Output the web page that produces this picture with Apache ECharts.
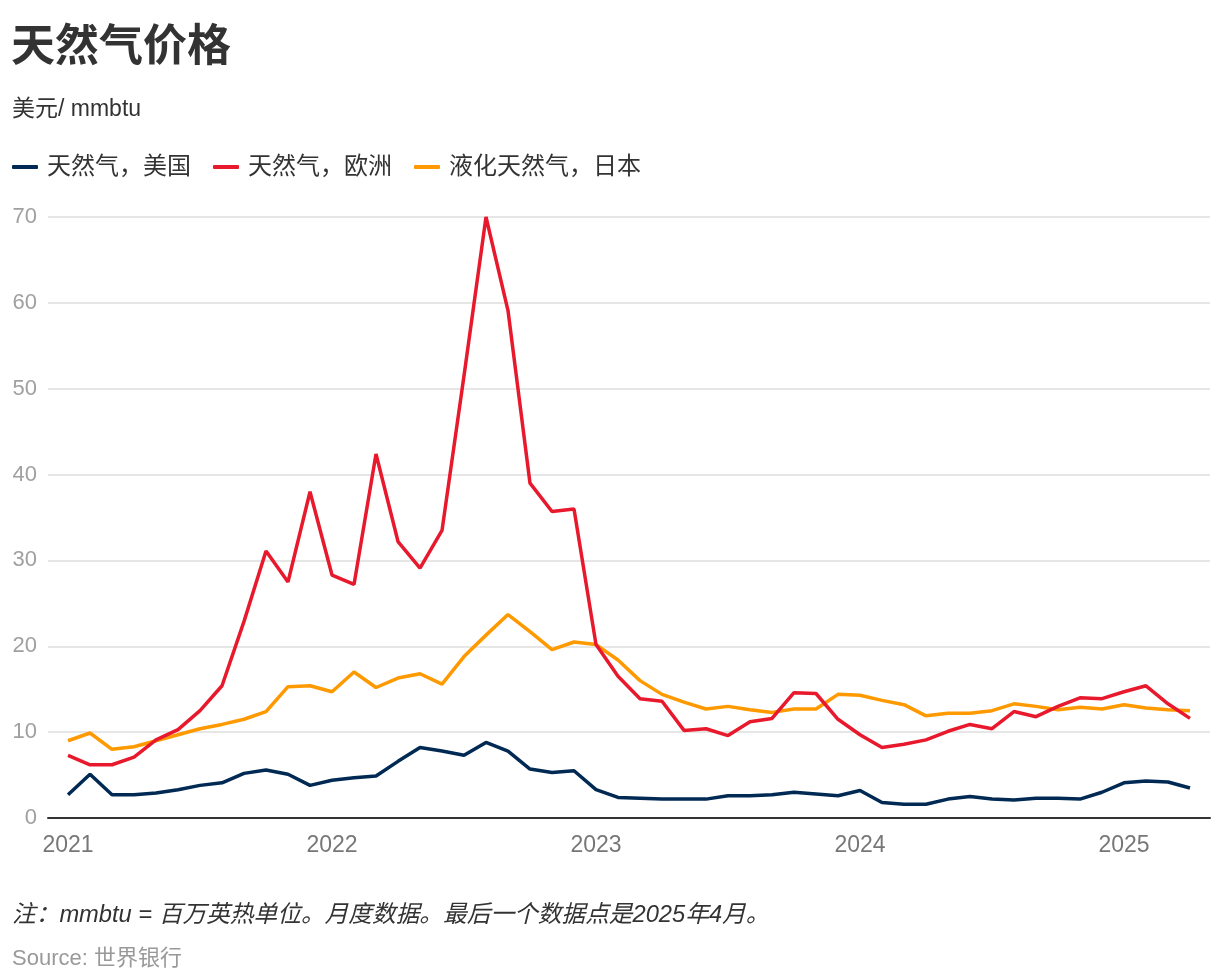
<!DOCTYPE html>
<html>
<head>
<meta charset="utf-8">
<title>天然气价格</title>
<script src="https://cdn.jsdelivr.net/npm/echarts@6.0.0/dist/echarts.min.js"></script>
<style>
  html, body { margin: 0; padding: 0; background: #fff; }
  #chart { width: 1220px; height: 980px; }
</style>
</head>
<body>
<div id="chart"></div>
<script>
// monthly, Jan 2021 .. Apr 2025 (US$/mmbtu)
const yearLabels = ['2021', '2022', '2023', '2024', '2025']

const usGas = [
  2.7, 5.1, 2.7, 2.7, 2.9, 3.3, 3.8, 4.1, 5.2, 5.6, 5.1, 3.8,
  4.4, 4.7, 4.9, 6.6, 8.2, 7.8, 7.3, 8.8, 7.8, 5.7, 5.3, 5.5,
  3.3, 2.4, 2.3, 2.2, 2.2, 2.2, 2.6, 2.6, 2.7, 3.0, 2.8, 2.6,
  3.2, 1.8, 1.6, 1.6, 2.2, 2.5, 2.2, 2.1, 2.3, 2.3, 2.2, 3.0,
  4.1, 4.3, 4.2, 3.5
]
const euGas = [
  7.3, 6.2, 6.2, 7.1, 9.1, 10.3, 12.5, 15.4, 22.9, 31.1, 27.5, 38.0,
  28.3, 27.2, 42.4, 32.2, 29.1, 33.5, 51.5, 70.0, 59.1, 39.0, 35.7, 36.0,
  20.2, 16.5, 13.9, 13.6, 10.2, 10.4, 9.6, 11.2, 11.6, 14.6, 14.5, 11.5,
  9.7, 8.2, 8.6, 9.1, 10.1, 10.9, 10.4, 12.4, 11.8, 13.0, 14.0, 13.9,
  14.7, 15.4, 13.3, 11.6
]
const jpLng = [
  9.0, 9.9, 8.0, 8.3, 9.0, 9.7, 10.4, 10.9, 11.5, 12.4, 15.3, 15.4,
  14.7, 17.0, 15.2, 16.3, 16.8, 15.6, 18.8, 21.3, 23.7, 21.7, 19.6, 20.5,
  20.2, 18.4, 16.0, 14.4, 13.5, 12.7, 13.0, 12.6, 12.3, 12.7, 12.7, 14.4,
  14.3, 13.7, 13.2, 11.9, 12.2, 12.2, 12.5, 13.3, 13.0, 12.6, 12.9, 12.7,
  13.2, 12.8, 12.6, 12.5
]

const seriesNames = ['天然气，美国', '天然气，欧洲', '液化天然气，日本']
const seriesColors = ['#002a54', '#e8192c', '#ff9900']

const font = "'Liberation Sans', 'Noto Sans CJK SC', sans-serif"
const toPoints = arr => arr.map((v, i) => [i, v])

const chart = echarts.init(document.getElementById('chart'))

chart.setOption({
  animation: false,
  textStyle: { fontFamily: font },
  color: seriesColors,
  title: [
    {
      text: '天然气价格', left: 11, top: 27, padding: 0,
      textStyle: { fontSize: 44, fontWeight: 'bold', color: '#333', fontFamily: font }
    },
    {
      text: '美元/ mmbtu', left: 12, top: 98, padding: 0,
      textStyle: { fontSize: 23, fontWeight: 'normal', color: '#333', fontFamily: font }
    },
    {
      text: '注：mmbtu = 百万英热单位。月度数据。最后一个数据点是2025年4月。', left: 12, top: 904, padding: 0,
      textStyle: { fontSize: 23.7, fontWeight: 'normal', fontStyle: 'italic', color: '#333', fontFamily: font }
    },
    {
      text: 'Source: 世界银行', left: 12, top: 948, padding: 0,
      textStyle: { fontSize: 22, fontWeight: 'normal', color: '#999', fontFamily: font }
    }
  ],
  legend: {
    left: 12, top: 155, padding: 0,
    itemWidth: 26, itemHeight: 4, itemGap: 22,
    icon: 'roundRect',
    textStyle: { fontSize: 24, color: '#333', padding: [0, 0, 0, 4], fontFamily: font },
    data: seriesNames
  },
  grid: { left: 48, right: 10, top: 217, bottom: 162, containLabel: false },
  xAxis: {
    type: 'value',
    min: -0.91,
    max: 51.91,
    axisLine: { show: true, lineStyle: { color: '#333', width: 2 } },
    axisTick: { show: false },
    splitLine: { show: false },
    axisLabel: {
      customValues: yearLabels.map((y, i) => i * 12),
      formatter: v => yearLabels[Math.round(v / 12)] || '',
      fontSize: 23, color: '#777', margin: 16, fontFamily: font
    }
  },
  yAxis: {
    type: 'value',
    min: 0, max: 70, interval: 10,
    axisLine: { show: false },
    axisTick: { show: false },
    splitLine: { lineStyle: { color: '#e6e6e6', width: 2 } },
    axisLabel: { fontSize: 22, color: '#a0a0a0', margin: 11, fontFamily: font }
  },
  series: [
    { name: seriesNames[0], type: 'line', data: toPoints(usGas), showSymbol: false, lineStyle: { width: 3.5 }, z: 3 },
    { name: seriesNames[1], type: 'line', data: toPoints(euGas), showSymbol: false, lineStyle: { width: 3.5 }, z: 5 },
    { name: seriesNames[2], type: 'line', data: toPoints(jpLng), showSymbol: false, lineStyle: { width: 3.5 }, z: 4 }
  ]
})
</script>
</body>
</html>
